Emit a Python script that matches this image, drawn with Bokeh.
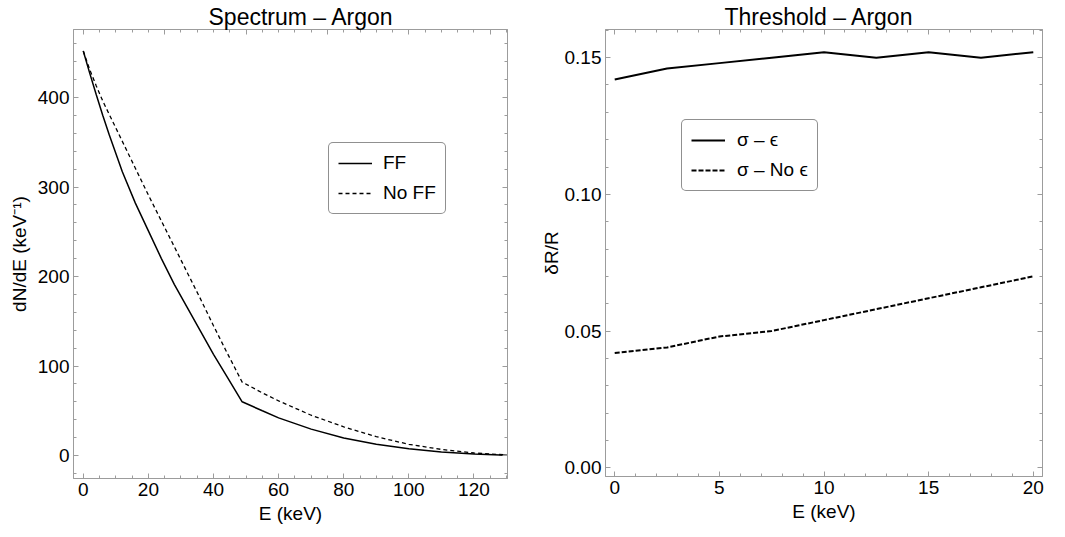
from bokeh.plotting import figure
from bokeh.models import (Range1d, LinearAxis, SingleIntervalTicker, Legend, LegendItem,
                          CustomJSTickFormatter, NumeralTickFormatter)
from bokeh.layouts import row
from bokeh.embed import file_html
from bokeh.resources import INLINE

# ---------------- data ----------------
# Left panel: Spectrum - Argon
energy_kev = [0, 2, 4, 6, 8, 12, 16, 20, 24, 28, 32, 36, 40, 44, 48.8,
              55, 60, 70, 80, 90, 100, 110, 120, 130]
dnde_ff = [452, 427, 403, 380, 358, 317, 282, 251, 220, 191, 165, 139, 113, 89, 60,
           50, 42, 29.5, 19.5, 12.5, 7.5, 4.0, 1.6, 0.3]
dnde_no_ff = [452, 431, 413, 396, 381, 351, 321, 291, 262, 233, 204, 175, 145, 116, 82,
              70, 61, 45, 32, 21, 12.5, 6.8, 2.8, 0.6]

# Right panel: Threshold - Argon
threshold_kev = [0, 2.5, 5, 7.5, 10, 12.5, 15, 17.5, 20]
sigma_eps = [0.142, 0.146, 0.148, 0.150, 0.152, 0.150, 0.152, 0.150, 0.152]
sigma_no_eps = [0.042, 0.044, 0.048, 0.050, 0.054, 0.058, 0.062, 0.066, 0.070]

titles = ["Spectrum – Argon", "Threshold – Argon"]
labels_left = ["FF", "No FF"]
labels_right = ["σ – ϵ", "σ – No ϵ"]

# ---------------- style ----------------
FONT = "Liberation Sans"
FRAME = "#9c9c9c"


def style_axis(ax, interval, minor, show_labels=True):
    ax.ticker = SingleIntervalTicker(interval=interval, num_minor_ticks=minor)
    ax.axis_line_color = FRAME
    ax.axis_line_width = 1
    ax.major_tick_line_color = FRAME
    ax.minor_tick_line_color = FRAME
    ax.major_tick_in = 5
    ax.major_tick_out = 0
    ax.minor_tick_in = 3
    ax.minor_tick_out = 0
    ax.major_label_text_font = FONT
    ax.major_label_text_color = "black"
    ax.major_label_text_font_size = "19px"
    ax.axis_label_text_font = FONT
    ax.axis_label_text_font_size = "19px"
    ax.axis_label_text_font_style = "normal"
    ax.axis_label_text_color = "black"
    if show_labels:
        ax.major_label_standoff = 4
    else:
        ax.formatter = CustomJSTickFormatter(code="return ''")
        ax.major_label_standoff = 0


def make_fig(title, title_offset, xr, yr, fw, fh, bl, br, bt, bb):
    p = figure(frame_width=fw, frame_height=fh, x_range=Range1d(*xr), y_range=Range1d(*yr),
               output_backend="svg", toolbar_location=None,
               min_border_left=bl, min_border_right=br, min_border_top=bt, min_border_bottom=bb)
    p.xgrid.visible = False
    p.ygrid.visible = False
    p.outline_line_color = FRAME
    p.background_fill_color = "white"
    p.border_fill_color = "white"
    p.title.text = title
    p.title.text_font = FONT
    p.title.text_font_size = "23px"
    p.title.text_font_style = "normal"
    p.title.text_color = "black"
    p.title.align = "left"
    p.title.offset = title_offset
    p.title.standoff = 0
    return p


def add_axes(p, xi, xm, yi, ym, xi_top, xm_top):
    bx = p.xaxis[0]
    ly = p.yaxis[0]
    style_axis(bx, xi, xm)
    style_axis(ly, yi, ym)
    top = LinearAxis()
    style_axis(top, xi_top, xm_top, show_labels=False)
    right = LinearAxis()
    style_axis(right, yi, ym, show_labels=False)
    p.add_layout(top, "above")
    p.add_layout(right, "right")
    return bx, ly


def make_legend(items, loc, lw):
    leg = Legend(items=items, location=loc)
    leg.border_line_color = "#222222"
    leg.border_line_width = 1
    leg.background_fill_color = "white"
    leg.background_fill_alpha = 1
    leg.label_text_font = FONT
    leg.label_text_font_size = "19px"
    leg.label_text_color = "black"
    leg.glyph_width = 34
    leg.glyph_height = 20
    leg.label_height = 20
    leg.label_standoff = lw
    leg.padding = 9
    leg.spacing = 8
    leg.margin = 0
    try:
        leg.border_radius = 5
    except Exception:
        pass
    return leg


# ---------------- left figure ----------------
p1 = make_fig(titles[0], 135, (-3, 130.3), (-25.7, 476), 434, 449, 73, 23, 27, 59)
r1 = p1.line(energy_kev, dnde_ff, line_color="black", line_width=1.5)
r2 = p1.line(energy_kev, dnde_no_ff, line_color="black", line_width=1.3, line_dash="4 3")
bx1, ly1 = add_axes(p1, 20, 4, 100, 5, 25, 5)
bx1.axis_label = "E (keV)"
bx1.axis_label_standoff = 4
ly1.axis_label = "dN/dE (keV⁻¹)"
ly1.axis_label_standoff = 5
p1.add_layout(make_legend([LegendItem(label=labels_left[0], renderers=[r1]),
                           LegendItem(label=labels_left[1], renderers=[r2])],
                          (255, 264), 11))

# ---------------- right figure ----------------
p2 = make_fig(titles[1], 119, (-0.44, 20.44), (-0.0032, 0.1603), 437, 447, 75, 22, 29, 59)
r3 = p2.line(threshold_kev, sigma_eps, line_color="black", line_width=2)
r4 = p2.line(threshold_kev, sigma_no_eps, line_color="black", line_width=2, line_dash="5 2")
bx2, ly2 = add_axes(p2, 5, 5, 0.05, 5, 5, 5)
ly2.formatter = NumeralTickFormatter(format="0.00")
bx2.axis_label = "E (keV)"
bx2.axis_label_standoff = 4
ly2.axis_label = "δR/R"
ly2.axis_label_standoff = 0
p2.add_layout(make_legend([LegendItem(label=labels_right[0], renderers=[r3]),
                           LegendItem(label=labels_right[1], renderers=[r4])],
                          (76, 285), 12))

layout = row(p1, p2)
open("out.html", "w").write(file_html(layout, INLINE))
